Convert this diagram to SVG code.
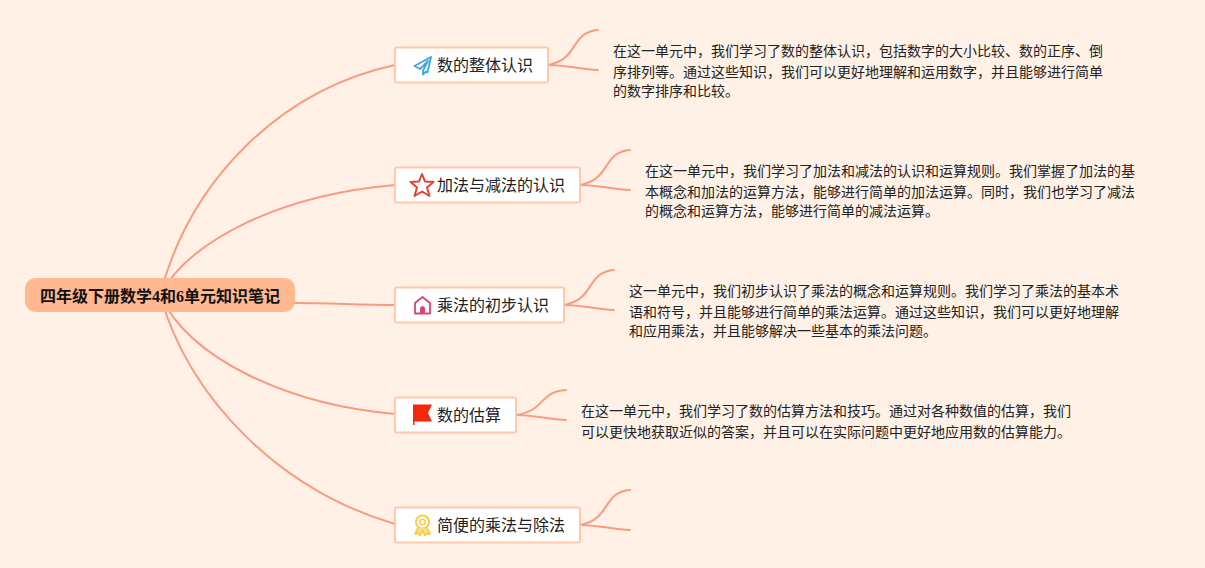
<svg xmlns="http://www.w3.org/2000/svg" width="1205" height="568" viewBox="0 0 1205 568">
<style>
.c{fill:none;stroke:#fb9a80;stroke-width:2;stroke-linecap:round}
.n{fill:#fff;stroke:#ffc8a8;stroke-width:2}
.t{font-family:"Noto Sans CJK SC","Noto Sans",sans-serif;font-size:16px;fill:#222}
.d{font-family:"Noto Sans CJK SC","Noto Sans",sans-serif;font-size:14px;fill:#222}
.r{font-family:"Liberation Serif","Noto Sans CJK SC",serif;font-size:16px;font-weight:bold;fill:#111}
</style>
<rect width="1205" height="568" fill="#fff1e6"/>
<g id="connectors">
<path class="c" d="M160 295C190 180 280 90 395 65"/>
<path class="c" d="M160 295C190 240 280 195 395 185"/>
<path class="c" d="M295 303C330 303 360 305 395 305"/>
<path class="c" d="M160 295C190 360 290 405 395 414"/>
<path class="c" d="M160 295C190 400 280 490 395 524"/>
<path class="c" d="M548 65C579 60 570 32 598 30"/>
<path class="c" d="M548 65C565 65 580 69 598 70"/>
<path class="c" d="M580 185C611 180 602 152 630 150"/>
<path class="c" d="M580 185C597 185 612 189 630 190"/>
<path class="c" d="M564 305C595 300 586 272 614 270"/>
<path class="c" d="M564 305C581 305 596 309 614 310"/>
<path class="c" d="M516 415C547 410 538 392 566 390"/>
<path class="c" d="M516 415C533 415 548 419 566 420"/>
<path class="c" d="M580 525C611 520 602 492 630 490"/>
<path class="c" d="M580 525C597 525 612 529 630 530"/>
</g>
<g id="root">
<rect x="25" y="278" width="270" height="34" rx="11" fill="#ffb88f"/>
<text class="r" x="40" y="302">四年级下册数学4和6单元知识笔记</text>
</g>
<g id="node1">
<rect class="n" x="395" y="47.500" width="153" height="35" rx="2"/>
<path d="M431 57L414.500 66L420 69L428 61L423 70.500V74.500L426 71.500L427.500 72.500Z" fill="none" stroke="#3ea5e0" stroke-width="1.800" stroke-linejoin="round"/>
<text class="t" x="437" y="71">数的整体认识</text>
</g>
<g id="desc1">
<text class="d" x="613" y="56">在这一单元中，我们学习了数的整体认识，包括数字的大小比较、数的正序、倒</text>
<text class="d" x="613" y="77">序排列等。通过这些知识，我们可以更好地理解和运用数字，并且能够进行简单</text>
<text class="d" x="613" y="96">的数字排序和比较。</text>
</g>
<g id="node2">
<rect class="n" x="395" y="167.500" width="185" height="35" rx="2"/>
<path d="M422 174L425 181.500L433.500 182L427 187.500L429.500 196L422 191.500L414.500 196L417 187.500L410.500 182L419 181.500Z" fill="none" stroke="#e0442f" stroke-width="2" stroke-linejoin="round"/>
<text class="t" x="437" y="191">加法与减法的认识</text>
</g>
<g id="desc2">
<text class="d" x="645" y="176">在这一单元中，我们学习了加法和减法的认识和运算规则。我们掌握了加法的基</text>
<text class="d" x="645" y="197">本概念和加法的运算方法，能够进行简单的加法运算。同时，我们也学习了减法</text>
<text class="d" x="645" y="216">的概念和运算方法，能够进行简单的减法运算。</text>
</g>
<g id="node3">
<rect class="n" x="395" y="287.500" width="169" height="35" rx="2"/>
<path d="M415 303L422.500 297L430 303V313.500H415Z" fill="none" stroke="#d8447a" stroke-width="1.800" stroke-linejoin="round"/>
<path d="M420 313.500V308Q422.500 304 425 308V313.500Z" fill="#d8447a"/>
<text class="t" x="437" y="311">乘法的初步认识</text>
</g>
<g id="desc3">
<text class="d" x="629" y="296">这一单元中，我们初步认识了乘法的概念和运算规则。我们学习了乘法的基本术</text>
<text class="d" x="629" y="317">语和符号，并且能够进行简单的乘法运算。通过这些知识，我们可以更好地理解</text>
<text class="d" x="629" y="336">和应用乘法，并且能够解决一些基本的乘法问题。</text>
</g>
<g id="node4">
<rect class="n" x="395" y="397.500" width="121" height="35" rx="2"/>
<path d="M413 404.500H432L428 413L432 421.500H414.500V425H413Z" fill="#f5280e"/>
<text class="t" x="437" y="421">数的估算</text>
</g>
<g id="desc4">
<text class="d" x="581" y="416">在这一单元中，我们学习了数的估算方法和技巧。通过对各种数值的估算，我们</text>
<text class="d" x="581" y="437">可以更快地获取近似的答案，并且可以在实际问题中更好地应用数的估算能力。</text>
</g>
<g id="node5">
<rect class="n" x="395" y="507.500" width="185" height="35" rx="2"/>
<circle cx="422.500" cy="522" r="6.500" fill="none" stroke="#f7cf4e" stroke-width="2.200"/>
<circle cx="422.500" cy="522" r="2.800" fill="none" stroke="#f7cf4e" stroke-width="1.600"/>
<path d="M418 528L415 534L418.500 533.500L420 535.500L422.500 530.500L425 535.500L426.500 533.500L430 534L427 528" fill="#fbe08a" stroke="#f7cf4e" stroke-width="1.800" stroke-linejoin="round"/>
<text class="t" x="437" y="531">简便的乘法与除法</text>
</g>
</svg>
